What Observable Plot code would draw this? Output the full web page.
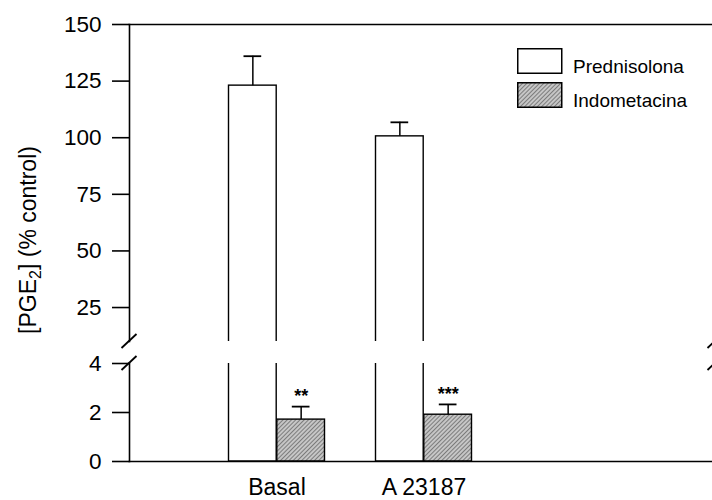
<!DOCTYPE html>
<html>
<head>
<meta charset="utf-8">
<script src="https://cdn.jsdelivr.net/npm/d3@7"></script>
<script src="https://cdn.jsdelivr.net/npm/@observablehq/plot@0.6"></script>
<style>
  html, body { margin: 0; padding: 0; background: #fff; overflow: hidden; }
  #chart { position: relative; width: 712px; height: 500px; overflow: hidden; background: #fff;
           font-family: "Liberation Sans", Arial, Helvetica, sans-serif; }
</style>
</head>
<body>
<div id="chart"></div>
<script>
// ---- data ----
const categories = ["Basal", "A 23187"];
const seriesNames = ["Prednisolona", "Indometacina"];
const prednisolonaMean = [123, 100.6];
const prednisolonaSEM = [13, 6.2];
const indometacinaMean = [1.71, 1.91];
const indometacinaSEM = [0.53, 0.42];
const indometacinaStars = ["**", "***"];
const upperTicks = [25, 50, 75, 100, 125, 150];
const lowerTicks = [0, 2, 4];
const yLabelMain = "[PGE", yLabelSub = "2", yLabelRest = "] (% control)";

const rows = categories.flatMap((c, i) => [
  {category: c, series: "Prednisolona", mean: prednisolonaMean[i], sem: prednisolonaSEM[i], stars: ""},
  {category: c, series: "Indometacina", mean: indometacinaMean[i], sem: indometacinaSEM[i], stars: indometacinaStars[i]}
]);

const FONT = '"Liberation Sans", Arial, Helvetica, sans-serif';
const look = {
  Prednisolona: {fill: "white", insetLeft: 25.5, insetRight: 73.8, dx: -24.15},
  Indometacina: {fill: "url(#hatch)", insetLeft: 73.8, insetRight: 25.5, dx: 24.15}
};
const xScale = {type: "band", domain: categories, range: [202.35, 496.95], padding: 0};

function seriesMarks(withStars) {
  return seriesNames.flatMap(s => {
    const data = rows.filter(d => d.series === s);
    const L = look[s];
    const m = [
      Plot.barY(data, {x: "category", y1: 0, y2: "mean", fill: L.fill, stroke: "black", strokeWidth: 1.4,
                       insetLeft: L.insetLeft, insetRight: L.insetRight, clip: true}),
      Plot.ruleX(data, {x: "category", y1: "mean", y2: d => d.mean + d.sem, dx: L.dx,
                        stroke: "black", strokeWidth: 1.5, clip: true}),
      Plot.tickY(data, {x: "category", y: d => d.mean + d.sem, insetLeft: L.insetLeft + 15,
                        insetRight: L.insetRight + 15, stroke: "black", strokeWidth: 1.8, clip: true})
    ];
    if (withStars) m.push(Plot.text(data, {x: "category", y: d => d.mean + d.sem, text: "stars", dx: L.dx,
                        dy: -10, fontSize: 18, fontWeight: "bold", fill: "black", clip: true}));
    return m;
  });
}

const upper = Plot.plot({
  width: 712, height: 350,
  marginTop: 24, marginBottom: 9, marginLeft: 129, marginRight: 0,
  x: {...xScale, axis: null},
  y: {domain: [10, 150]},
  style: {fontFamily: FONT, fontSize: "22px", background: "white", color: "black",
          position: "absolute", left: "0px", top: "0px", overflow: "hidden"},
  marks: [
    ...seriesMarks(false),
    Plot.axisY({ticks: upperTicks, tickFormat: "d", tickSize: 17, tickPadding: 11,
                label: null, fontSize: 22.5, stroke: "black", strokeWidth: 1.6}),
    Plot.frame({anchor: "top", strokeWidth: 1.6}),
    Plot.frame({anchor: "left", strokeWidth: 1.6})
  ]
});

const lower = Plot.plot({
  width: 712, height: 150,
  marginTop: 13, marginBottom: 39, marginLeft: 129, marginRight: 0,
  x: xScale,
  y: {domain: [0, 4]},
  style: {fontFamily: FONT, fontSize: "22px", background: "transparent", color: "black",
          position: "absolute", left: "0px", top: "350px", overflow: "hidden"},
  marks: [
    ...seriesMarks(true),
    Plot.axisY({ticks: lowerTicks, tickFormat: "d", tickSize: 17, tickPadding: 11,
                label: null, fontSize: 22.5, stroke: "black", strokeWidth: 1.6}),
    Plot.axisX({tickSize: 0, tickPadding: 17, label: null, fontSize: 23}),
    Plot.frame({anchor: "left", strokeWidth: 1.6}),
    Plot.frame({anchor: "bottom", strokeWidth: 1.6})
  ]
});

const chart = document.getElementById("chart");
chart.append(upper, lower);

// hatch pattern (referenced by url(#hatch))
const defs = d3.select(upper).append("defs");
const pat = defs.append("pattern").attr("id", "hatch").attr("patternUnits", "userSpaceOnUse")
  .attr("width", 3).attr("height", 3).attr("patternTransform", "rotate(45)");
pat.append("rect").attr("width", 3).attr("height", 3).attr("fill", "#c6c6c6");
pat.append("line").attr("x1", 0.5).attr("y1", 0).attr("x2", 0.5).attr("y2", 3)
  .attr("stroke", "#6a6a6a").attr("stroke-width", 0.8);

// axis break marks
function slash(svg, cx, cy) {
  d3.select(svg).append("line").attr("x1", cx - 7.5).attr("y1", cy + 7).attr("x2", cx + 7.5).attr("y2", cy - 7)
    .attr("stroke", "black").attr("stroke-width", 1.8);
}
const yU = upper.scale("y"), yL = lower.scale("y");
const yUb = yU.apply(yU.domain[0]);
const yLt = yL.apply(yL.domain[1]);
slash(upper, 129, yUb); slash(upper, 715, yUb);
slash(lower, 129, yLt); slash(lower, 715, yLt);

// y-axis title spanning both panels
const yl = d3.select(upper).append("text")
  .attr("transform", "translate(36,240) rotate(-90)")
  .attr("text-anchor", "middle").attr("font-size", 23).attr("fill", "black").attr("font-family", FONT);
yl.append("tspan").text(yLabelMain);
yl.append("tspan").attr("dy", 5).attr("font-size", 16).text(yLabelSub);
yl.append("tspan").attr("dy", -5).text(yLabelRest);

// legend (inside the plot area)
const leg = d3.select(chart).append("svg")
  .attr("width", 200).attr("height", 75)
  .style("position", "absolute").style("left", "510px").style("top", "40px")
  .attr("font-family", FONT);
seriesNames.forEach((s, i) => {
  const top = i === 0 ? 8 : 42;
  leg.append("rect").attr("x", 7.75).attr("y", top + 0.75).attr("width", 44).attr("height", 24.5)
    .attr("fill", look[s].fill).attr("stroke", "black").attr("stroke-width", 1.5);
  leg.append("text").attr("x", 63).attr("y", top + 24.5).attr("font-size", 19).attr("fill", "black").text(s);
});
</script>
</body>
</html>
